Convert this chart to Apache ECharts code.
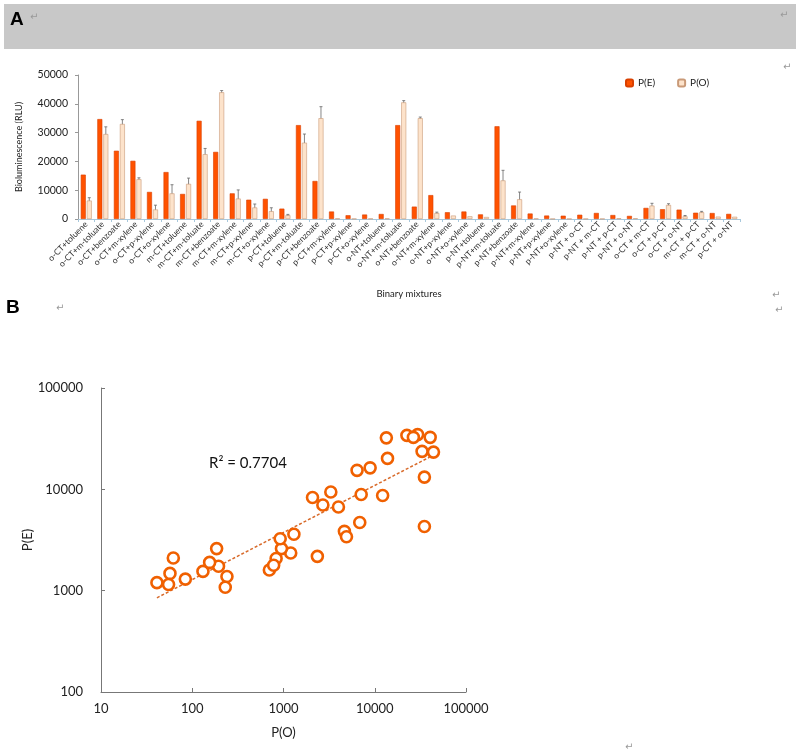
<!DOCTYPE html>
<html>
<head>
<meta charset="utf-8">
<script src="https://cdn.jsdelivr.net/npm/echarts@6/dist/echarts.min.js"></script>
<style>
  html, body { margin: 0; padding: 0; background: #fff; }
  #chart { width: 796px; height: 756px; }
</style>
</head>
<body>
<div id="chart"></div>
<script>
// binary mixtures (panel A categories)
var mixtures = [
    'o-CT+toluene', 'o-CT+m-toluate', 'o-CT+benzoate', 'o-CT+m-xylene', 'o-CT+p-xylene', 'o-CT+o-xylene',
    'm-CT+toluene', 'm-CT+m-toluate', 'm-CT+benzoate', 'm-CT+m-xylene', 'm-CT+p-xylene', 'm-CT+o-xylene',
    'p-CT+toluene', 'p-CT+m-toluate', 'p-CT+benzoate', 'p-CT+m-xylene', 'p-CT+p-xylene', 'p-CT+o-xylene',
    'o-NT+toluene', 'o-NT+m-toluate', 'o-NT+benzoate', 'o-NT+m-xylene', 'o-NT+p-xylene', 'o-NT+o-xylene',
    'p-NT+toluene', 'p-NT+m-toluate', 'p-NT+benzoate', 'p-NT+m-xylene', 'p-NT+p-xylene', 'p-NT+o-xylene',
    'p-NT + o-CT', 'p-NT + m-CT', 'p-NT + p-CT', 'p-NT + o-NT', 'o-CT + m-CT', 'o-CT + p-CT',
    'o-CT + o-NT', 'm-CT + p-CT', 'm-CT + o-NT', 'p-CT + o-NT'
];
// expected bioluminescence P(E)
var pE = [15400, 34700, 23700, 20200, 9400, 16300, 8700, 34100, 23300, 8900, 6700, 7000,
          3600, 32600, 13200, 2600, 1300, 1550, 1740, 32600, 4300, 8300, 2350, 2600,
          1600, 32200, 4700, 1900, 1200, 1150, 1480, 2100, 1380, 1080, 3850, 3400,
          3250, 2180, 2080, 1780];
// observed bioluminescence P(O)
var pO = [6400, 29500, 33000, 13800, 3300, 8900, 12200, 22500, 44000, 7100, 4000, 2700,
          1300, 26500, 35000, 185, 84, 131, 194, 40500, 35000, 2080, 1200, 950,
          700, 13400, 6850, 155, 41, 55, 57, 62, 240, 230, 4650, 4900,
          920, 2350, 830, 780];
// error of P(O)
var errO = [1000, 2500, 1500, 500, 1500, 3000, 2000, 2000, 600, 3000, 1200, 1200,
            300, 3000, 4000, 0, 0, 0, 0, 600, 400, 300, 0, 0,
            0, 3500, 2500, 0, 0, 0, 0, 0, 0, 0, 800, 400,
            300, 300, 0, 0];
// panel B trend line (power fit) ends
var trendX = [41, 40000];
var trendY = [850, 20800];
var r2Text = 'R² = 0.7704';

var FONT = 'Lato, "Open Sans", sans-serif';
var scatterData = pO.map(function (v, i) { return [v, pE[i]]; });
var errData = errO.map(function (e, i) { return [i, pO[i], e]; });
var plain = function (v) { return String(v); };

var myChart = echarts.init(document.getElementById('chart'));
var mark = function (x, y) {
    return {type: 'text', left: x, top: y, style: {text: '↵', fill: '#999', font: '10px "DejaVu Sans"'}};
};

option = {
    animation: false,
    backgroundColor: '#fff',
    textStyle: {fontFamily: FONT},
    graphic: [
        {type: 'rect', shape: {x: 4, y: 4, width: 792, height: 45}, style: {fill: '#c8c8c8'}},
        {type: 'text', left: 10, top: 10, style: {text: 'A', fill: '#000', font: 'bold 19px "Liberation Sans"'}},
        {type: 'text', left: 6, top: 298, style: {text: 'B', fill: '#000', font: 'bold 19px "Liberation Sans"'}},
        mark(30, 12), mark(780, 10), mark(783, 62), mark(772, 290), mark(56, 303), mark(775, 305), mark(625, 742),
        {type: 'text', left: 209, top: 456, style: {text: r2Text, fill: '#111', font: '15px ' + FONT}}
    ],
    legend: {
        data: ['P(E)', 'P(O)'],
        top: 73, left: 620,
        itemWidth: 7, itemHeight: 7, itemGap: 22,
        textStyle: {fontSize: 10, color: '#222', fontFamily: FONT}
    },
    grid: [
        {left: 78, right: 56, top: 75, bottom: 537},
        {left: 101, right: 330, top: 388, bottom: 64}
    ],
    xAxis: [
        {
            type: 'category', gridIndex: 0, data: mixtures,
            name: 'Binary mixtures', nameLocation: 'middle', nameGap: 70,
            nameTextStyle: {fontSize: 9.5, color: '#222'},
            axisLine: {lineStyle: {color: '#a8c8dc'}},
            axisTick: {show: true, alignWithLabel: false, length: 3, lineStyle: {color: '#a8c8dc'}},
            axisLabel: {rotate: 45, interval: 0, fontSize: 8.5, color: '#333', margin: 4}
        },
        {
            type: 'log', gridIndex: 1, logBase: 10, min: 10, max: 100000,
            name: 'P(O)', nameLocation: 'middle', nameGap: 34,
            nameTextStyle: {fontSize: 13, color: '#222'},
            axisLine: {lineStyle: {color: '#777'}},
            axisTick: {inside: true, length: 4, lineStyle: {color: '#777'}},
            minorTick: {show: false},
            splitLine: {show: false},
            axisLabel: {fontSize: 13, color: '#222', margin: 10, formatter: plain}
        }
    ],
    yAxis: [
        {
            type: 'value', gridIndex: 0, min: 0, max: 50000, interval: 10000,
            name: 'Bioluminescence (RLU)', nameLocation: 'middle', nameGap: 54,
            nameTextStyle: {fontSize: 9, color: '#222'},
            axisLine: {show: true, lineStyle: {color: '#999'}},
            axisTick: {show: true, length: 3, lineStyle: {color: '#999'}},
            splitLine: {show: false},
            axisLabel: {fontSize: 10.5, color: '#222', margin: 10, formatter: plain}
        },
        {
            type: 'log', gridIndex: 1, logBase: 10, min: 100, max: 100000,
            name: 'P(E)', nameLocation: 'middle', nameGap: 63,
            nameTextStyle: {fontSize: 13, color: '#222'},
            axisLine: {show: true, lineStyle: {color: '#777'}},
            axisTick: {show: true, inside: true, length: 4, lineStyle: {color: '#777'}},
            splitLine: {show: false},
            axisLabel: {fontSize: 13, color: '#222', margin: 18, formatter: plain}
        }
    ],
    series: [
        {
            name: 'P(E)', type: 'bar', xAxisIndex: 0, yAxisIndex: 0,
            barWidth: 5, barGap: '20%',
            itemStyle: {color: '#ff5200', borderColor: '#d94000', borderWidth: 0.6},
            data: pE
        },
        {
            name: 'P(O)', type: 'bar', xAxisIndex: 0, yAxisIndex: 0,
            barWidth: 5, barGap: '20%',
            itemStyle: {color: '#fde3cb', borderColor: '#c99a78', borderWidth: 0.6},
            data: pO
        },
        {
            type: 'custom', xAxisIndex: 0, yAxisIndex: 0, silent: true,
            data: errData,
            renderItem: function (params, api) {
                var e = api.value(2);
                if (!e) return;
                var hi = api.coord([api.value(0), api.value(1) + e]);
                var lo = api.coord([api.value(0), api.value(1) - e]);
                var x = hi[0] + 3;
                var st = {stroke: '#666', lineWidth: 0.8};
                return {
                    type: 'group', children: [
                        {type: 'line', shape: {x1: x, y1: hi[1], x2: x, y2: lo[1]}, style: st},
                        {type: 'line', shape: {x1: x - 1.5, y1: hi[1], x2: x + 1.5, y2: hi[1]}, style: st},
                        {type: 'line', shape: {x1: x - 1.5, y1: lo[1], x2: x + 1.5, y2: lo[1]}, style: st}
                    ]
                };
            }
        },
        {
            type: 'scatter', xAxisIndex: 1, yAxisIndex: 1,
            symbol: 'circle', symbolSize: 11,
            itemStyle: {color: '#fff', borderColor: '#f06000', borderWidth: 2.6, opacity: 1},
            data: scatterData
        },
        {
            type: 'line', xAxisIndex: 1, yAxisIndex: 1, showSymbol: false, silent: true,
            lineStyle: {color: '#d86a2a', width: 1.5, type: [3, 2]},
            data: [[trendX[0], trendY[0]], [trendX[1], trendY[1]]],
            z: 1
        }
    ]
};
myChart.setOption(option);
</script>
</body>
</html>
